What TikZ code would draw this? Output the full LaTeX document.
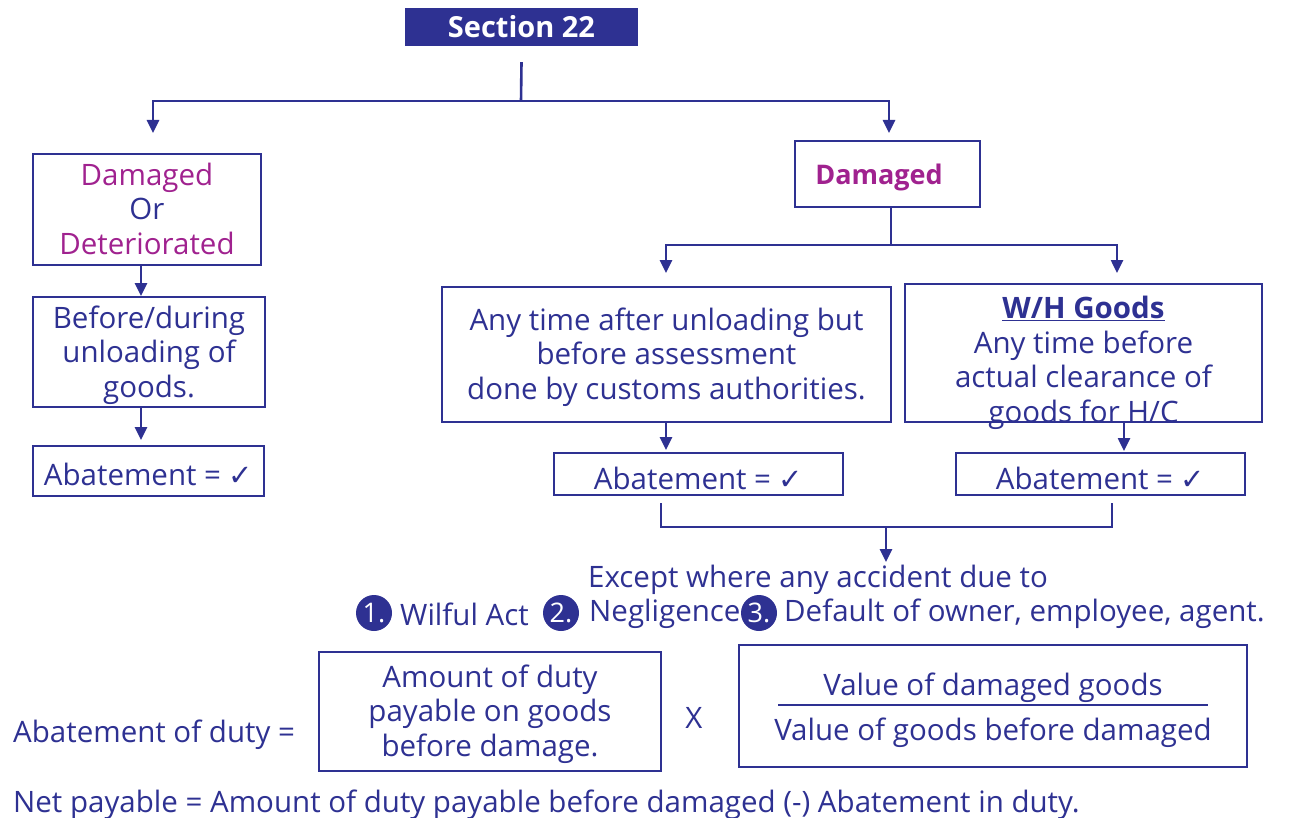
\documentclass[tikz,border=0pt]{standalone}
\usepackage{fontspec}
\setmainfont{Open Sans}
\newfontfamily\symfont{DejaVu Sans}
\usetikzlibrary{arrows.meta}
\definecolor{navy}{HTML}{2E3192}
\definecolor{plum}{HTML}{A0228F}
\newcommand{\tick}{{\symfont\fontsize{29}{29}\selectfont ✓}}
\begin{document}
\begin{tikzpicture}[x=1pt,y=-1pt,
  txt/.style={text=navy,font=\fontsize{29.5}{34.5}\selectfont,align=center,inner sep=0pt},
  box/.style={draw=navy,line width=2.6pt,inner sep=0pt},
  link/.style={draw=navy,line width=2.6pt},
  arr/.style={link,-{Triangle[length=13pt,width=12pt]}},
  num/.style={circle,fill=navy,text=white,inner sep=0pt,minimum size=36pt,font=\fontsize{27}{27}\selectfont}]
\useasboundingbox (0,0) rectangle (1289,818);

% title
\node[fill=navy,minimum width=233pt,minimum height=38pt,inner sep=0pt,
  text=white,font=\fontsize{29}{29}\selectfont\bfseries] (sec) at (521.5,27) {Section 22};
\coordinate (hub) at (521,101);
\coordinate (tl) at (153,133);
\coordinate (tr) at (889,133);
\draw[link] ([yshift=-16pt]sec.south) -- (hub);
\draw[arr] (hub) -| (tl);
\draw[arr] (hub) -| (tr);

% left branch
\node[box,minimum width=228pt,minimum height=111pt] (dod) at (147,209.5) {};
\node[txt] (dodt) at (147,208.5) {\textcolor{plum}{Damaged}\\Or\\\textcolor{plum}{Deteriorated}};
\node[box,minimum width=232pt,minimum height=110pt] (bdu) at (149,352) {};
\node[txt] (bdut) at (149,355) {Before/during\\unloading of\\goods.};
\node[box,minimum width=231pt,minimum height=50pt] (ab1) at (148.5,471) {};
\node[txt] (ab1t) at (148.5,474) {Abatement = \tick};
\draw[arr] (141,266) -- (141,296);
\draw[arr] (141,408) -- (141,440);

% right branch
\node[box,minimum width=185pt,minimum height=66pt] (dmg) at (887.5,174) {};
\node[txt,text=plum,font=\fontsize{27}{34}\selectfont\bfseries] (dmgt) at (879,177) {Damaged};
\coordinate (hub2) at (891,245);
\coordinate (ml) at (666,273);
\coordinate (mr) at (1117,273);
\draw[link] (hub2 |- dmg.south) -- (hub2);
\draw[arr] (hub2) -| (ml);
\draw[arr] (hub2) -| (mr);

\node[box,minimum width=449pt,minimum height=135pt] (aft) at (666.5,354.5) {};
\node[txt] (aftt) at (666.5,357) {Any time after unloading but\\before assessment\\done by customs authorities.};
\node[box,minimum width=357pt,minimum height=138pt] (wh) at (1083.5,353) {};
\node[txt] (wht) at (1083.5,363) {\textbf{\underline{W/H Goods}}\\Any time before\\actual clearance of\\goods for H/C};

\node[box,minimum width=289pt,minimum height=42pt] (ab2) at (698.5,474) {};
\node[txt] (ab2t) at (698.5,478) {Abatement = \tick};
\node[box,minimum width=289pt,minimum height=42pt] (ab3) at (1100.5,474) {};
\node[txt] (ab3t) at (1100.5,478) {Abatement = \tick};
\draw[arr] (666,422) -- (666,450);
\draw[arr] (1124,422) -- (1124,451);

% merge of the two abatement boxes
\coordinate (mj) at (886,527);
\coordinate (mend) at (886,562);
\draw[link] (661,503) -- (661,527) -- (1112,527) -- (1112,503);
\draw[arr] (mj) -- (mend);

% exception
\node[txt] (exc) at (818,580) {Except where any accident due to};
\node[num] (n1) at (374,613) {1.};
\node[txt,anchor=west] (w1) at (400,614) {Wilful Act};
\node[num] (n2) at (561,613) {2.};
\node[txt,anchor=west] (w2) at (589,614) {Negligence};
\node[num] (n3) at (759,613) {3.};
\node[txt,anchor=west] (w3) at (784,614) {Default of owner, employee, agent.};

% formula
\node[txt,anchor=west] (lhs) at (13,735) {Abatement of duty =};
\node[box,minimum width=342pt,minimum height=119pt] (fa) at (490,711.5) {};
\node[txt] (fat) at (490,714) {Amount of duty\\payable on goods\\before damage.};
\node[txt] (times) at (694,718) {X};
\node[box,minimum width=508pt,minimum height=122pt] (fb) at (993,706) {};
\node[txt] (fbn) at (993,688) {Value of damaged goods};
\node[txt] (fbd) at (993,733) {Value of goods before damaged};
\draw[link] (778,705) -- (1208,705);

\node[txt,anchor=west] (net) at (13,805) {Net payable = Amount of duty payable before damaged (-) Abatement in duty.};
\end{tikzpicture}
\end{document}
